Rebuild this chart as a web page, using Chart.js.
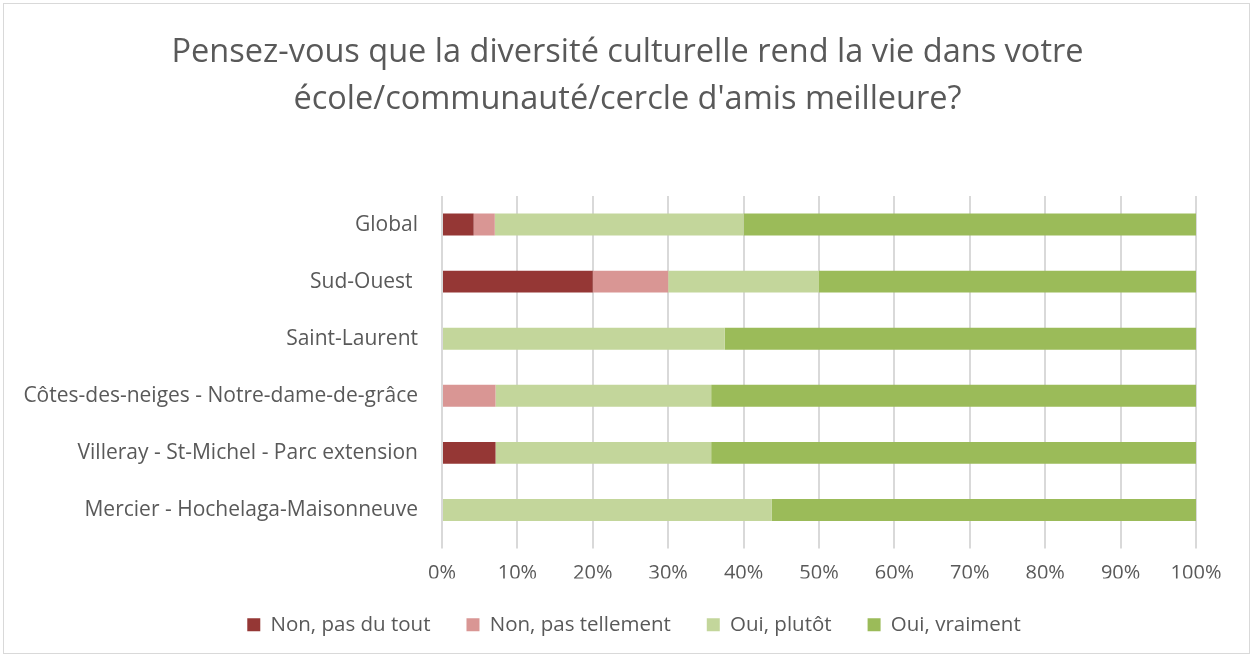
<!DOCTYPE html>
<html><head><meta charset="utf-8">
<script src="https://cdn.jsdelivr.net/npm/chart.js@4"></script>
<style>
html,body{margin:0;padding:0;background:#fff;}
#wrap{position:absolute;left:3px;top:3px;width:1247px;height:651px;border:1px solid #d9d9d9;box-sizing:border-box;}
#c{position:absolute;left:0;top:0;}
#title{position:absolute;left:0;top:26px;width:1255px;text-align:center;font-family:'Open Sans',sans-serif;font-size:32.5px;line-height:47px;color:#595959;}
</style></head><body>
<div id="wrap"></div>
<canvas id="c" width="1255" height="659"></canvas>
<div id="title"></div>
<script>
const categories = ["Global","Sud-Ouest ","Saint-Laurent","Côtes-des-neiges - Notre-dame-de-grâce","Villeray - St-Michel - Parc extension","Mercier - Hochelaga-Maisonneuve"];
const nonPasDuTout = [4.2, 20, 0, 0, 7.1, 0];
const nonPasTellement = [2.8, 10, 0, 7.1, 0, 0];
const ouiPlutot = [33, 20, 37.5, 28.6, 28.6, 43.75];
const ouiVraiment = [60, 50, 62.5, 64.3, 64.3, 56.25];
const seriesNames = ["Non, pas du tout","Non, pas tellement","Oui, plutôt","Oui, vraiment"];
const titleLines = ["Pensez-vous que la diversité culturelle rend la vie dans votre","école/communauté/cercle d'amis meilleure?"];

document.getElementById('title').innerHTML = titleLines.map(t => t.replace(/&/g,'&amp;').replace(/</g,'&lt;')).join('<br>');

const FONT = "'Open Sans', sans-serif";
const colors = ["#953735","#D99694","#C3D69B","#9BBB59"];
const data = [nonPasDuTout, nonPasTellement, ouiPlutot, ouiVraiment];

const shiftLegend = {
  id: 'shiftLegend',
  afterLayout(chart) {
    if (chart.legend) { chart.legend.left += 30; chart.legend.right += 30; }
  }
};

new Chart(document.getElementById('c'), {
  type: 'bar',
  data: {
    labels: categories,
    datasets: data.map((d,i)=>({label: seriesNames[i], data: d, backgroundColor: colors[i], borderWidth: 0, categoryPercentage: 0.8, barPercentage: 0.48}))
  },
  plugins: [shiftLegend],
  options: {
    indexAxis: 'y',
    responsive: false,
    animation: false,
    layout: {padding: {left: 12, right: 59, top: 196, bottom: 14}},
    plugins: {
      title: {display: false},
      legend: {position: 'bottom', labels: {color: '#595959', font: {family: FONT, size: 20.5}, boxWidth: 13, boxHeight: 13, padding: 36}},
      tooltip: {enabled: false}
    },
    scales: {
      x: {stacked: true, min: 0, max: 100,
        ticks: {stepSize: 10, callback: v => v + '%', color: '#595959', font: {family: FONT, size: 20}, padding: 13},
        grid: {color: '#d9d9d9', lineWidth: 2, drawTicks: true, tickLength: 10, tickColor: '#d9d9d9'},
        border: {display: false},
        afterFit: s => { s.height = 40; }},
      y: {stacked: true,
        ticks: {color: '#595959', font: {family: FONT, size: 21}, padding: 16},
        grid: {display: false},
        border: {display: false},
        afterFit: s => { s.width = 430; }}
    }
  }
});
</script>
</body></html>
